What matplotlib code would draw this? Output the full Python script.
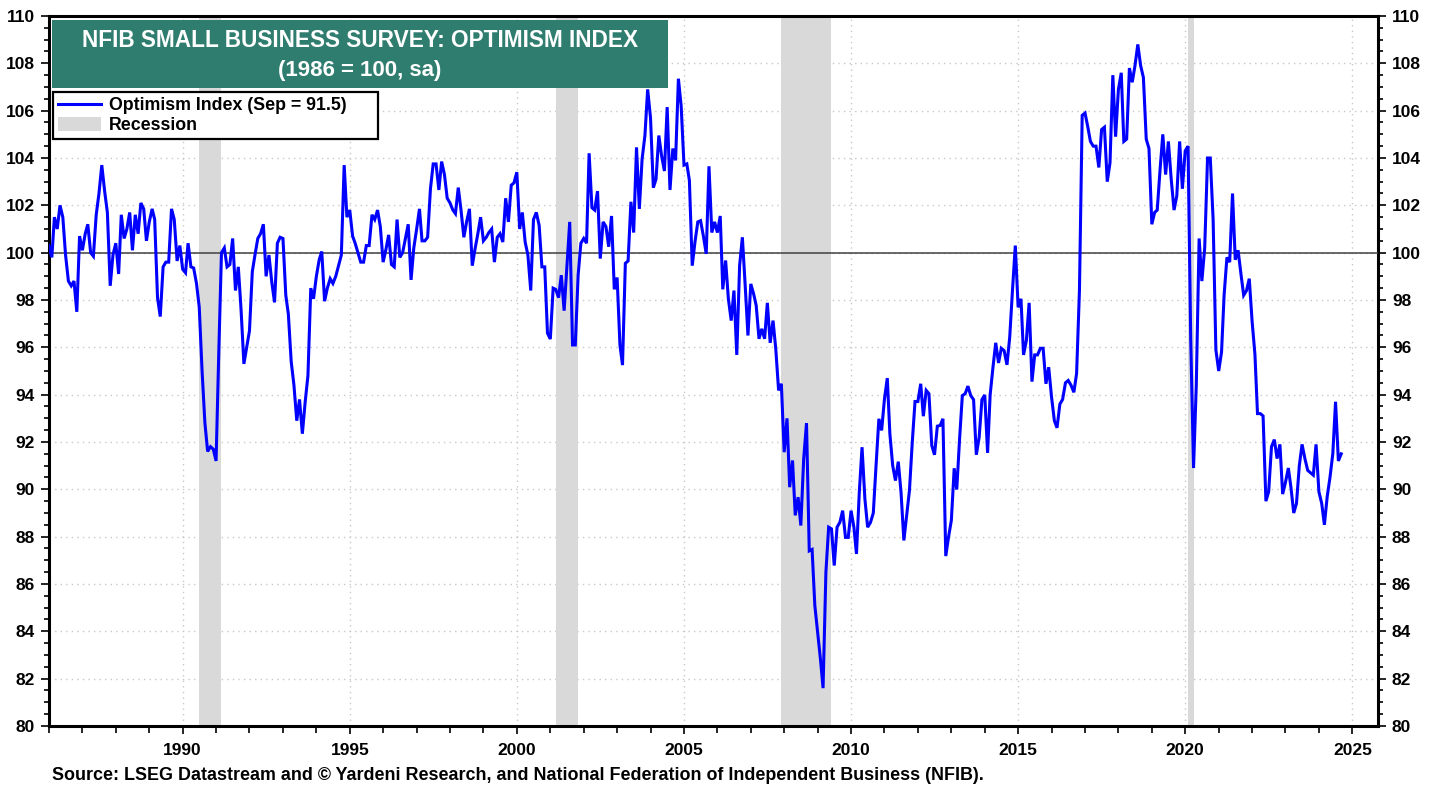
import numpy as np
import pandas as pd
import matplotlib
matplotlib.use("Agg")
import matplotlib.pyplot as plt
import matplotlib.dates as mdates
from matplotlib.lines import Line2D
from matplotlib.patches import Patch, Rectangle

plt.rcParams['font.family'] = ['Liberation Sans', 'DejaVu Sans']
plt.rcParams['font.weight'] = 'bold'

# ---- data: NFIB Small Business Optimism Index, monthly, Jan 1986 - Sep 2024 ----
v1986 = [100.3, 99.8, 101.5, 101.0, 102.0, 101.5, 99.9, 98.8, 98.6, 98.8, 97.5, 100.7]
v1987 = [100.1, 100.8, 101.2, 100.0, 99.85, 101.6, 102.5, 103.7, 102.6, 101.7, 98.6, 99.9]
v1988 = [100.4, 99.1, 101.6, 100.6, 101.0, 101.7, 100.1, 101.6, 100.8, 102.1, 101.85, 100.5]
v1989 = [101.3, 101.85, 101.4, 98.1, 97.3, 99.4, 99.6, 99.6, 101.85, 101.4, 99.65, 100.3]
v1990 = [99.3, 99.15, 100.4, 99.4, 99.35, 98.7, 97.7, 95.0, 92.8, 91.6, 91.8, 91.7]
v1991 = [91.2, 96.0, 100.0, 100.2, 99.4, 99.5, 100.6, 98.4, 99.4, 97.6, 95.3, 96.0]
v1992 = [96.7, 99.2, 99.9, 100.6, 100.8, 101.2, 99.0, 99.9, 98.75, 97.9, 100.4, 100.65]
v1993 = [100.6, 98.2, 97.4, 95.4, 94.4, 92.9, 93.8, 92.35, 93.7, 94.8, 98.5, 98.05]
v1994 = [99.0, 99.7, 100.05, 97.95, 98.5, 98.9, 98.7, 99.0, 99.45, 99.9, 103.7, 101.5]
v1995 = [101.8, 100.7, 100.4, 100.0, 99.6, 99.6, 100.3, 100.3, 101.6, 101.4, 101.8, 101.1]
v1996 = [99.6, 100.15, 100.75, 99.5, 99.4, 101.4, 99.8, 100.0, 100.6, 101.2, 98.85, 100.2]
v1997 = [101.0, 101.85, 100.5, 100.5, 100.65, 102.7, 103.75, 103.75, 102.65, 103.85, 103.3, 102.3]
v1998 = [102.1, 101.8, 101.65, 102.75, 101.8, 100.65, 101.3, 101.85, 99.45, 100.15, 100.8, 101.5]
v1999 = [100.5, 100.65, 100.85, 101.0, 99.6, 100.65, 100.8, 100.45, 102.3, 101.3, 102.85, 102.95]
v2000 = [103.4, 101.0, 101.7, 100.45, 99.9, 98.4, 101.4, 101.7, 101.15, 99.4, 99.4, 96.6]
v2001 = [96.35, 98.5, 98.45, 98.1, 99.05, 97.55, 99.4, 101.3, 96.1, 96.1, 99.05, 100.4]
v2002 = [100.6, 100.4, 104.2, 101.9, 101.8, 102.6, 99.75, 101.3, 101.1, 100.25, 101.55, 98.45]
v2003 = [98.95, 96.1, 95.25, 99.55, 99.65, 102.15, 100.85, 104.45, 101.85, 103.95, 104.95, 106.9]
v2004 = [105.7, 102.75, 103.1, 104.95, 104.1, 103.45, 106.15, 102.65, 104.4, 103.9, 107.35, 106.2]
v2005 = [103.7, 103.75, 103.05, 99.45, 100.45, 101.3, 101.35, 100.7, 99.95, 103.65, 100.85, 101.3]
v2006 = [100.85, 101.55, 98.45, 99.67, 98.05, 97.13, 98.4, 95.68, 99.46, 100.65, 98.6, 96.5]
v2007 = [98.68, 98.26, 97.77, 96.36, 96.78, 96.36, 97.88, 96.19, 97.13, 95.94, 94.18, 94.46]
v2008 = [91.57, 93.0, 90.09, 91.22, 88.9, 89.67, 88.47, 91.28, 92.8, 87.4, 87.46, 85.09]
v2009 = [83.96, 82.8, 81.6, 86.5, 88.4, 88.33, 86.78, 88.4, 88.61, 89.1, 87.97, 87.97]
v2010 = [89.1, 88.4, 87.27, 89.88, 91.78, 89.6, 88.4, 88.6, 89.0, 91.0, 92.98, 92.49]
v2011 = [93.82, 94.7, 92.35, 91.0, 90.37, 91.17, 89.88, 87.84, 88.9, 89.95, 92.0, 93.71]
v2012 = [93.71, 94.46, 93.09, 94.18, 94.04, 91.85, 91.46, 92.67, 92.7, 92.98, 87.18, 87.98]
v2013 = [88.69, 90.89, 89.99, 92.13, 93.96, 94.04, 94.36, 93.96, 93.79, 91.46, 92.2, 93.79]
v2014 = [93.99, 91.54, 93.99, 95.16, 96.19, 95.34, 95.96, 95.86, 95.26, 96.43, 98.47, 100.3]
v2015 = [97.69, 98.05, 95.68, 96.29, 97.88, 94.55, 95.68, 95.68, 95.96, 95.96, 94.46, 95.16]
v2016 = [93.9, 92.9, 92.6, 93.6, 93.8, 94.5, 94.6, 94.4, 94.1, 94.9, 98.4, 105.8]
v2017 = [105.9, 105.3, 104.7, 104.5, 104.5, 103.6, 105.2, 105.3, 103.0, 103.8, 107.5, 104.9]
v2018 = [106.9, 107.6, 104.7, 104.8, 107.8, 107.2, 107.9, 108.8, 107.9, 107.4, 104.8, 104.4]
v2019 = [101.2, 101.7, 101.8, 103.5, 105.0, 103.3, 104.7, 103.1, 101.8, 102.4, 104.7, 102.7]
v2020 = [104.3, 104.5, 96.4, 90.9, 94.4, 100.6, 98.8, 100.2, 104.0, 104.0, 101.4, 95.9]
v2021 = [95.0, 95.8, 98.2, 99.8, 99.6, 102.5, 99.7, 100.1, 99.1, 98.2, 98.4, 98.9]
v2022 = [97.1, 95.7, 93.2, 93.2, 93.1, 89.5, 89.9, 91.8, 92.1, 91.3, 91.9, 89.8]
v2023 = [90.3, 90.9, 90.1, 89.0, 89.4, 91.0, 91.9, 91.3, 90.8, 90.7, 90.6, 91.9]
v2024 = [89.9, 89.4, 88.5, 89.7, 90.5, 91.5, 93.7, 91.2, 91.5]

recession_start = ["1990-07-01", "2001-03-01", "2007-12-01", "2020-02-01"]
recession_end = ["1991-03-01", "2001-11-01", "2009-06-01", "2020-04-01"]

title_line1 = "NFIB SMALL BUSINESS SURVEY: OPTIMISM INDEX"
title_line2 = "(1986 = 100, sa)"
legend_labels = ["Optimism Index (Sep = 91.5)", "Recession"]
source_text = ("Source: LSEG Datastream and \u00a9 Yardeni Research, and National "
               "Federation of Independent Business (NFIB).")

values = np.array(v1986 + v1987 + v1988 + v1989 + v1990 + v1991 + v1992 + v1993 +
                  v1994 + v1995 + v1996 + v1997 + v1998 + v1999 + v2000 + v2001 +
                  v2002 + v2003 + v2004 + v2005 + v2006 + v2007 + v2008 + v2009 +
                  v2010 + v2011 + v2012 + v2013 + v2014 + v2015 + v2016 + v2017 +
                  v2018 + v2019 + v2020 + v2021 + v2022 + v2023 + v2024)
dates = pd.date_range("1986-01-01", periods=len(values), freq="MS")

# ---- figure ----
fig = plt.figure(figsize=(14.39, 7.87), dpi=100)
ax = fig.add_axes([49/1439, 61/787, 1329/1439, 710/787])

LINE_BLUE = "#0000FF"
REC_GRAY = "#D9D9D9"
TEAL = "#2F7D6F"

for s, e in zip(recession_start, recession_end):
    ax.axvspan(pd.Timestamp(s), pd.Timestamp(e), color=REC_GRAY, lw=0, zorder=1)

ax.plot(dates, values, color=LINE_BLUE, lw=2.2, zorder=4, solid_joinstyle='miter')
ax.axhline(100, color="#404040", lw=1.1, zorder=3)

ax.set_ylim(80, 110)
ax.set_xlim(pd.Timestamp("1986-01-01"), pd.Timestamp("2025-10-08"))

ax.set_yticks(np.arange(80, 111, 2))
ax.set_yticks(np.arange(80, 110.01, 0.5), minor=True)
ax.xaxis.set_major_locator(mdates.YearLocator(5))
ax.xaxis.set_minor_locator(mdates.YearLocator(1))
ax.xaxis.set_major_formatter(mdates.DateFormatter("%Y"))

ax.grid(True, which="major", color="#C8C8C8", lw=1.0, linestyle=(0, (1, 3)), zorder=0)
ax.set_axisbelow(True)

ax.tick_params(axis="y", which="both", direction="out", left=True, right=True,
               labelleft=True, labelright=True, labelsize=12.5, width=1.2, pad=4)
ax.tick_params(axis="y", which="major", length=6)
ax.tick_params(axis="y", which="minor", length=3.5)
ax.tick_params(axis="x", which="major", length=6, width=1.2, labelsize=12.5, pad=6)
ax.tick_params(axis="x", which="minor", length=5, width=1.2)
for lab in ax.get_xticklabels() + ax.get_yticklabels():
    lab.set_fontweight("bold")

for sp in ax.spines.values():
    sp.set_linewidth(2.2)
    sp.set_color("black")

# title box
ax.add_patch(Rectangle((0.0023, 0.8986), 0.4635, 0.0958, transform=ax.transAxes,
                       facecolor=TEAL, edgecolor="none", zorder=6))
ax.text(0.234, 0.966, title_line1, transform=ax.transAxes, ha="center", va="center",
        color="white", fontsize=16.3, fontweight="bold", zorder=7)
ax.text(0.234, 0.923, title_line2, transform=ax.transAxes, ha="center", va="center",
        color="white", fontsize=16.0, fontweight="bold", zorder=7)

# legend (expanded to the reference box width)
handles = [Line2D([0], [0], color=LINE_BLUE, lw=2.2),
           Patch(facecolor=REC_GRAY, edgecolor="none")]
leg = ax.legend(handles, legend_labels, loc="upper left",
                bbox_to_anchor=(0.003, 0.80, 0.2445, 0.093), mode="expand",
                borderaxespad=0, fancybox=False, framealpha=1, edgecolor="black",
                prop={"weight": "bold", "size": 12.8}, handlelength=2.4,
                handleheight=0.9, handletextpad=0.45, labelspacing=0.12,
                borderpad=0.28)
leg.get_frame().set_linewidth(1.6)
leg.set_zorder(8)

fig.text(52/1439, 1 - 775/787, source_text, ha="left", va="center",
         fontsize=12.9, fontweight="bold")

fig.savefig("out.png", dpi=100)
